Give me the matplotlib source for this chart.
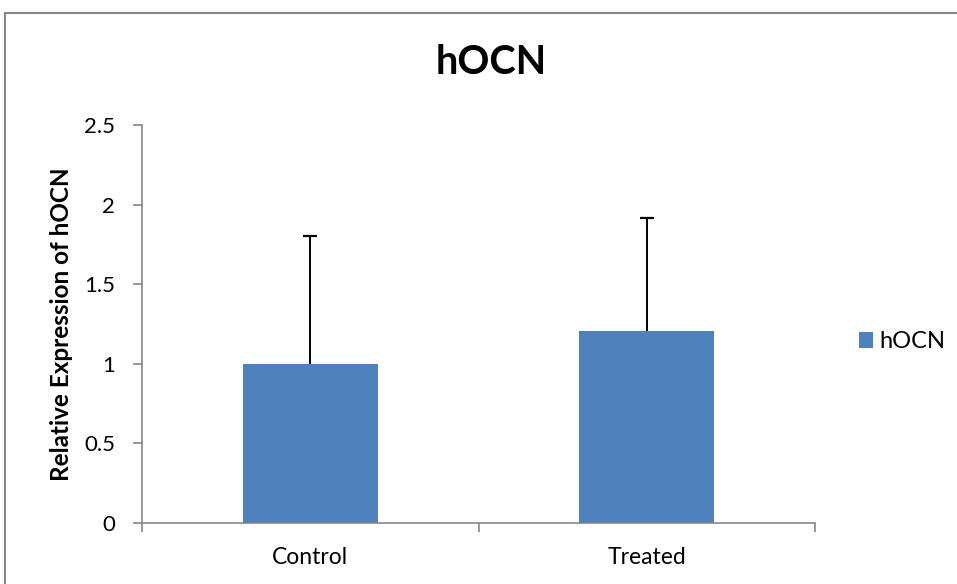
import matplotlib
matplotlib.use("Agg")
import matplotlib.pyplot as plt
from matplotlib.patches import Rectangle
import numpy as np

plt.rcParams['font.family'] = ['Lato', 'DejaVu Sans']

# data
groups = ['Control', 'Treated']
values = [1.0, 1.203]
errors_up = [0.80, 0.713]
series_name = 'hOCN'
yticks = [0, 0.5, 1, 1.5, 2, 2.5]
ytick_labels = ['0', '0.5', '1', '1.5', '2', '2.5']

bar_color = '#4F81BD'
axis_gray = '#868686'

fig = plt.figure(figsize=(9.57, 5.84), dpi=100)
ax = fig.add_axes([142/957, 1 - 523/584, (815-142)/957, (523-125)/584])

x = np.arange(len(groups))
ax.bar(x, values, width=0.40, color=bar_color, label=series_name, zorder=2)
eb = ax.errorbar(x, values, yerr=[np.zeros(len(errors_up)), errors_up], fmt='none',
                 ecolor='black', elinewidth=1.4, capsize=5, capthick=1.6, zorder=3)
# plus-only error bars: hide the lower caps
eb[1][0].set_visible(False)

ax.set_xlim(-0.5, len(groups) - 0.5)
ax.set_ylim(0, 2.5)
ax.set_yticks(yticks)
ax.set_yticklabels(ytick_labels, fontsize=16)
ax.set_xticks(x)
ax.set_xticklabels(groups, fontsize=16.5)
ax.tick_params(axis='x', which='major', length=0, pad=17)
ax.set_xticks(np.arange(-0.5, len(groups)), minor=True)
ax.tick_params(axis='x', which='minor', length=6.5, color=axis_gray, direction='out', width=1.2)
ax.tick_params(axis='y', length=6.5, color=axis_gray, direction='out', width=1.2, pad=13)

for s in ['top', 'right']:
    ax.spines[s].set_visible(False)
for s in ['left', 'bottom']:
    ax.spines[s].set_color(axis_gray)
    ax.spines[s].set_linewidth(1.2)

ax.set_ylabel('Relative Expression of hOCN', fontsize=17.5, fontweight='bold')
ax.yaxis.set_label_coords((73 - 142) / 673, 0.5)

fig.text(491/957, 1 - 63/584, 'hOCN', fontsize=28.5, fontweight='bold', ha='center', va='center')

ax.legend(loc='center left', bbox_to_anchor=(1.0, 0.455), frameon=False, fontsize=17,
          handlelength=0.62, handleheight=0.62, handletextpad=0.25, borderaxespad=1.45)

# chart area border (right and bottom edges fall outside the picture)
fig.patches.append(Rectangle((5/957, -0.05), 1.2, 1.05 - 13/584, transform=fig.transFigure,
                             fill=False, edgecolor=axis_gray, linewidth=1.5))

fig.savefig('out.png', dpi=100)
